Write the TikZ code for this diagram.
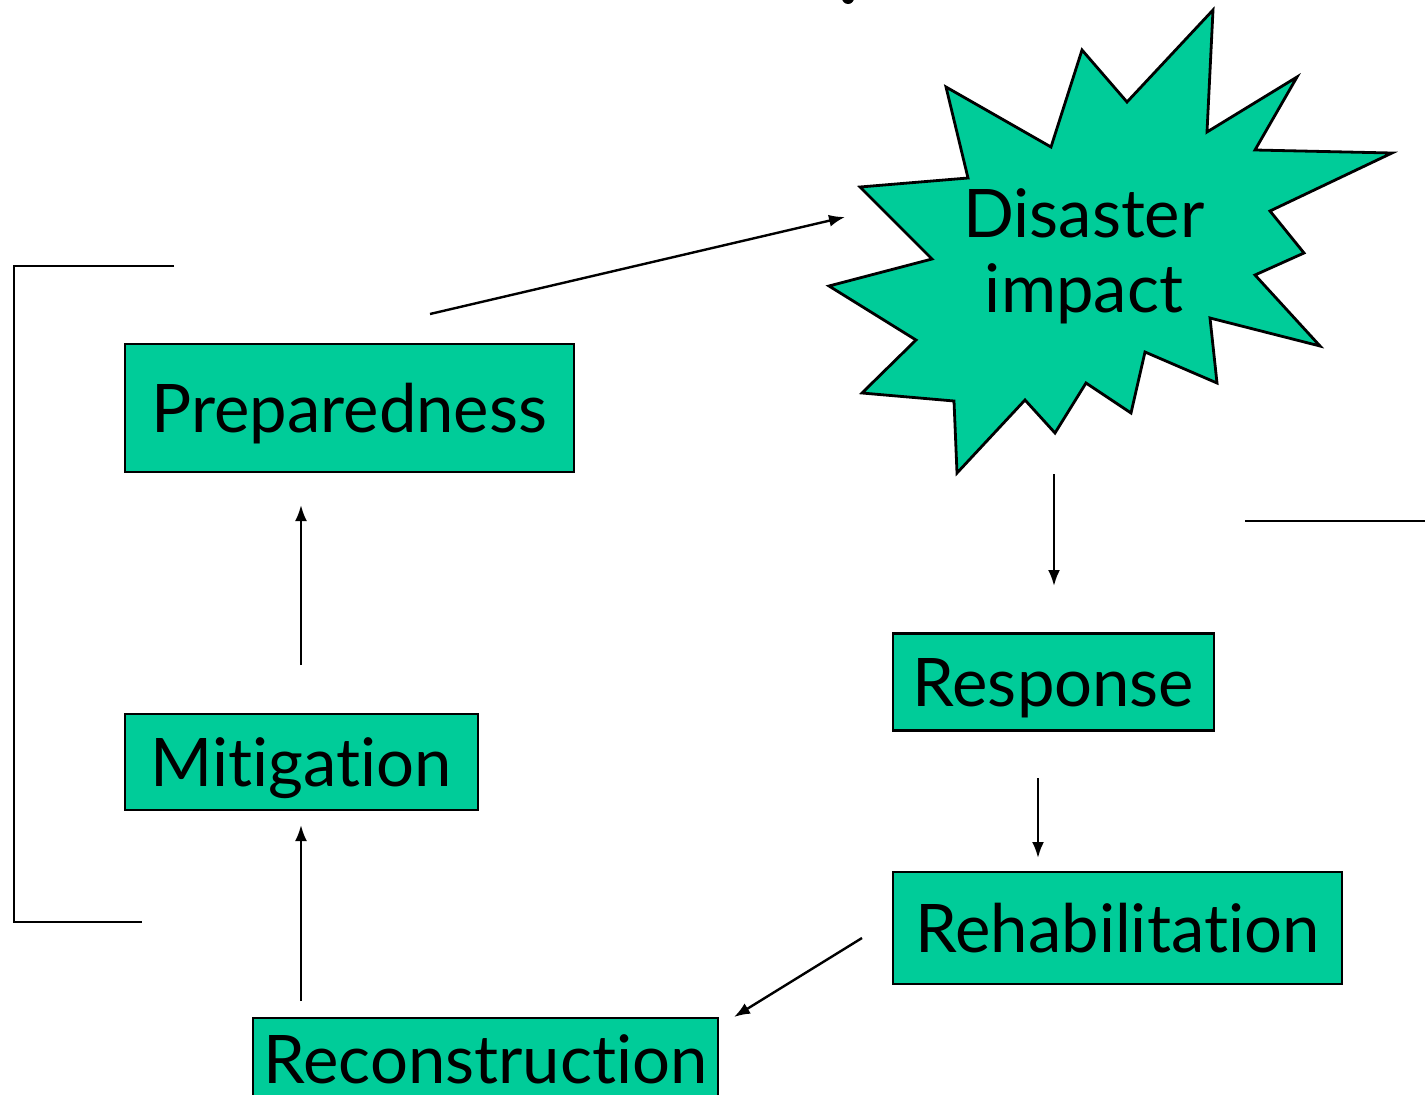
\documentclass[tikz,border=0pt]{standalone}
\usepackage{fontspec}
\setmainfont[Ligatures={NoCommon}]{Lato}
\usetikzlibrary{arrows.meta}
\definecolor{boxgreen}{RGB}{0,204,153}
\tikzset{
  x=1pt, y=-1pt,
  stagebox/.style={draw=black, line width=2.8pt, fill=boxgreen, inner sep=0pt,
    font=\fontsize{67}{72}\selectfont, text height=48pt, text depth=0pt},
  conn/.style={line width=2.4pt, -{Latex[length=16pt,width=12pt]}},
  bracket/.style={line width=2.4pt}
}
\begin{document}
\begin{tikzpicture}
\useasboundingbox (0,0) rectangle (1425,1095);
\clip (0,0) rectangle (1425,1095);
\fill[white] (0,0) rectangle (1425,1095);

% partial glyph at top
\fill (848,-2) circle (6);

% star
\draw[line width=2.8pt, fill=boxgreen, line join=miter]
  (1213,10) -- (1207,132) -- (1297,77) -- (1255,150) -- (1392,153) -- (1270,211)
  -- (1304,253) -- (1255,275) -- (1320,346) -- (1210,318) -- (1217,383)
  -- (1145,352) -- (1131,413) -- (1086,383) -- (1055,433) -- (1025,400)
  -- (957,473) -- (954,401) -- (862,393) -- (916,340) -- (829,286)
  -- (932,259) -- (860,187) -- (968,178) -- (946,87) -- (1051,147)
  -- (1082,50) -- (1127,102) -- cycle;
\node[font=\fontsize{67}{75}\selectfont, align=center, inner sep=0pt] (disaster) at (1084,256) {Disaster\\impact};

% boxes
\node[stagebox, minimum width=449, minimum height=128] (prep) at (349.5,408) {Preparedness};
\node[stagebox, minimum width=353, minimum height=96] (miti) at (301.5,762) {Mitigation};
\node[stagebox, minimum width=321, minimum height=97] (resp) at (1053.5,682) {Response};
\node[stagebox, minimum width=449, minimum height=112] (rehab) at (1117.5,928) {Rehabilitation};
\node[stagebox, minimum width=465, minimum height=82] (recon) at (485.5,1059) {Reconstruction};

% connector end points
\coordinate (a1) at (430,314);  \coordinate (a2) at (845,217);
\coordinate (b1) at (1054,474); \coordinate (b2) at (1054,586);
\coordinate (c1) at (1038,778); \coordinate (c2) at (1038,858);
\coordinate (d1) at (862,938);  \coordinate (d2) at (734,1017);
\coordinate (e1) at (301,1001); \coordinate (e2) at (301,825);
\coordinate (f1) at (301,665);  \coordinate (f2) at (301,505);

\draw[conn] (a1) -- (a2);
\draw[conn] (b1) -- (b2);
\draw[conn] (c1) -- (c2);
\draw[conn] (d1) -- (d2);
\draw[conn] (e1) -- (e2);
\draw[conn] (f1) -- (f2);

% brackets
\coordinate (l1) at (174,266); \coordinate (l2) at (14,266);
\coordinate (l3) at (14,922);  \coordinate (l4) at (142,922);
\draw[bracket] (l1) -- (l2) -- (l3) -- (l4);
\coordinate (r1) at (1245,521); \coordinate (r2) at (1425,521);
\draw[bracket] (r1) -- (r2);
\end{tikzpicture}
\end{document}
